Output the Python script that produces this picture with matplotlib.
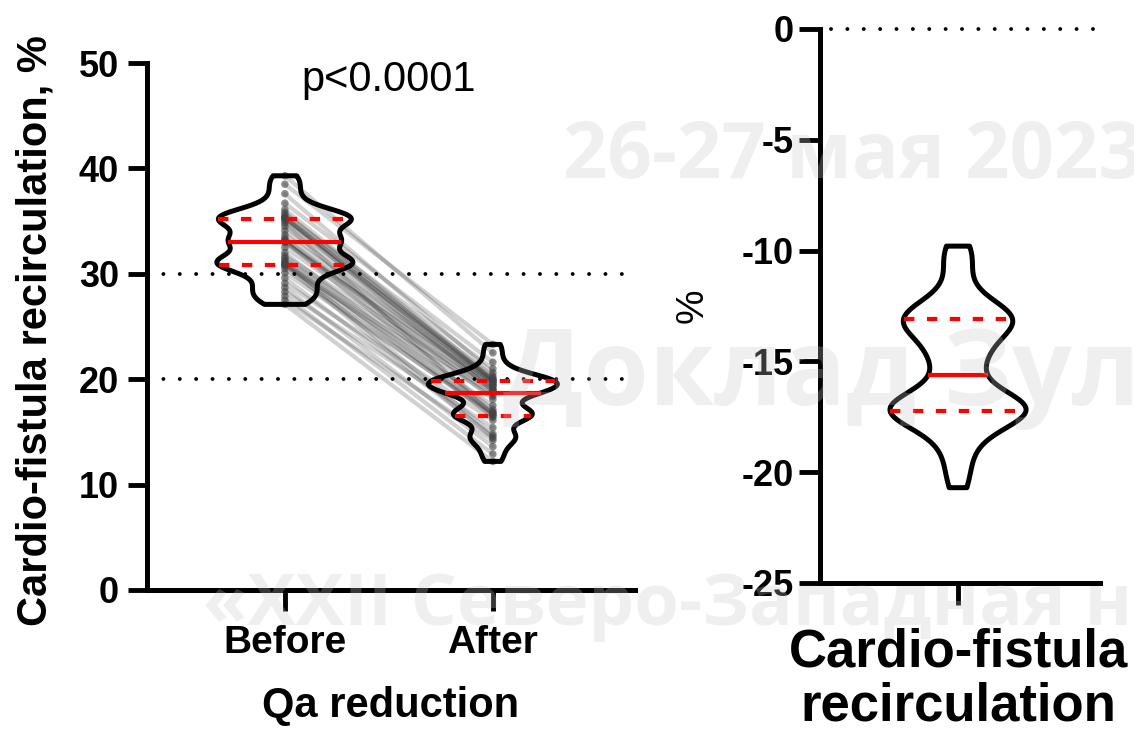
import numpy as np
import matplotlib
matplotlib.use('Agg')
import matplotlib.pyplot as plt

# ---------------- data ----------------
groups = ['Before', 'After']
before = [39.3, 38.5, 37.6, 36.7, 36.1, 35.8, 35.6, 35.4, 35.3, 35.3,
          35.2, 35.0, 34.8, 34.5, 34.1, 33.7, 33.4, 33.2, 33.1, 33.0,
          33.0, 32.5, 32.0, 31.7, 31.5, 31.3, 31.1, 31.0, 30.9, 30.8,
          30.8, 30.5, 30.1, 29.6, 29.1, 28.7, 28.3, 27.9, 27.5, 27.1]
after = [22.5, 23.3, 20.6, 21.6, 20.1, 19.9, 21.0, 19.6, 20.3, 18.9,
         20.0, 19.8, 16.6, 19.9, 19.4, 19.7, 18.1, 19.5, 17.1, 19.3,
         19.1, 18.8, 16.9, 19.0, 16.4, 18.6, 14.8, 17.5, 16.8, 18.4,
         14.4, 16.5, 16.7, 14.6, 16.1, 13.6, 15.4, 12.9, 14.2, 12.2]
change = [-9.8, -10.2, -10.9, -11.7, -12.3, -12.6, -12.8, -12.9, -13.0, -13.1,
          -13.1, -13.2, -13.4, -13.6, -13.8, -14.1, -14.4, -14.7, -15.0, -15.3,
          -15.9, -16.3, -16.6, -16.8, -16.9, -17.0, -17.1, -17.1, -17.2, -17.2,
          -17.3, -17.4, -17.5, -17.7, -17.9, -18.2, -18.6, -19.2, -19.9, -20.7]
change_label = 'Cardio-fistula\nrecirculation'
left_yticks = [0, 10, 20, 30, 40, 50]
right_yticks = [-25, -20, -15, -10, -5, 0]
left_refs = [30, 20]
right_refs = [0]
p_text = 'p<0.0001'
left_ylabel = 'Cardio-fistula recirculation, %'
left_xlabel = 'Qa reduction'
right_ylabel = '%'

plt.rcParams['font.family'] = ['Liberation Sans', 'DejaVu Sans']

fig = plt.figure(figsize=(11.34, 7.31), dpi=100)
axL = fig.add_axes([0.1296, 0.1929, 0.4303, 0.7209])
axR = fig.add_axes([0.7231, 0.2025, 0.2469, 0.7579])

RED = '#ff0000'


def violin(ax, data, pos, width, bw):
    # white fill underneath the paired lines
    p1 = ax.violinplot([data], positions=[pos], widths=width, bw_method=bw,
                       showextrema=False, points=500)
    b = p1['bodies'][0]
    b.set_facecolor('white'); b.set_edgecolor('none'); b.set_alpha(1); b.set_zorder(1)
    # black outline on top
    p2 = ax.violinplot([data], positions=[pos], widths=width, bw_method=bw,
                       showextrema=False, points=500)
    o = p2['bodies'][0]
    o.set_facecolor('none'); o.set_edgecolor('black'); o.set_alpha(1)
    o.set_linewidth(3.6); o.set_joinstyle('round'); o.set_zorder(4)
    v = b.get_paths()[0].vertices
    right = v[v[:, 0] > pos + 1e-9]
    order = np.argsort(right[:, 1])
    ys, xs = right[order, 1], right[order, 0] - pos
    q1, med, q3 = np.percentile(data, [25, 50, 75])
    for q, ls in ((q1, (0, (2.5, 3))), (med, '-'), (q3, (0, (2.5, 3)))):
        hw = np.interp(q, ys, xs)
        ax.plot([pos - hw, pos + hw], [q, q], color=RED, lw=3.0, ls=ls,
                zorder=6, solid_capstyle='butt', dash_capstyle='butt')


# ---------------- left panel ----------------
violin(axL, before, 0, 0.654, 0.25)
violin(axL, after, 1, 0.62, 0.25)
for b_, a_ in zip(before, after):
    axL.plot([0, 1], [b_, a_], color='black', alpha=0.18, lw=3.0, zorder=2,
             solid_capstyle='round')
axL.scatter(np.zeros(len(before)), before, s=30, color='#444444', alpha=0.6,
            edgecolors='none', zorder=3)
axL.scatter(np.ones(len(after)), after, s=30, color='#444444', alpha=0.6,
            edgecolors='none', zorder=3)
for r in left_refs:
    axL.axhline(r, color='black', lw=2.8, ls=(0, (0.01, 4.2)),
                dash_capstyle='round', zorder=2.5)

axL.set_xlim(-0.663, 1.683)
axL.set_ylim(0, 50)
axL.set_yticks(left_yticks, [str(t) for t in left_yticks], fontsize=26, fontweight='bold')
axL.set_xticks([0, 1], groups, fontsize=28, fontweight='bold')
axL.tick_params(axis='y', length=14, width=3.5, pad=6)
axL.tick_params(axis='x', length=15, width=3.5, pad=10)
axL.set_xlabel(left_xlabel, fontsize=30, fontweight='bold', labelpad=18)
axL.text(0.5, 47.3, p_text, fontsize=30, ha='center', va='baseline')
fig.text(36 / 1134, 1 - 331 / 731, left_ylabel, rotation=90, fontsize=30,
         fontweight='bold', ha='center', va='center')

# ---------------- right panel ----------------
violin(axR, change, 0, 0.486, 0.27)
for r in right_refs:
    axR.axhline(r, xmin=0.04, color='black', lw=2.8, ls=(0, (0.01, 4.2)),
                dash_capstyle='round', zorder=2.5, clip_on=False)
axR.set_xlim(-0.493, 0.507)
axR.set_ylim(-25, 0)
axR.set_yticks(right_yticks, [str(t) for t in right_yticks], fontsize=26, fontweight='bold')
axR.set_xticks([0], [change_label], fontsize=38, fontweight='bold', linespacing=1.1)
axR.tick_params(axis='y', length=15, width=3.5, pad=4)
axR.tick_params(axis='x', length=16, width=3.5, pad=16)
axR.set_ylabel(right_ylabel, fontsize=28, labelpad=22)

for ax in (axL, axR):
    for s in ('top', 'right'):
        ax.spines[s].set_visible(False)
    for s in ('left', 'bottom'):
        ax.spines[s].set_linewidth(3.6)
        ax.spines[s].set_capstyle('projecting')

# ---------------- faint watermark ----------------
wm = dict(family=['Open Sans', 'DejaVu Sans'], fontweight='bold', color='#c8c8c8',
          alpha=0.28, va='baseline', ha='left')
fig.text(563 / 1134, 1 - 178 / 731, '26-27 мая 2023', fontsize=56, **wm)
fig.text(503 / 1134, 1 - 405 / 731, 'Доклад Зул', fontsize=76, **wm)
fig.text(203 / 1134, 1 - 625 / 731, '«XXII Северо-Западная н', fontsize=52, **wm)

fig.savefig('out.png', dpi=100)
